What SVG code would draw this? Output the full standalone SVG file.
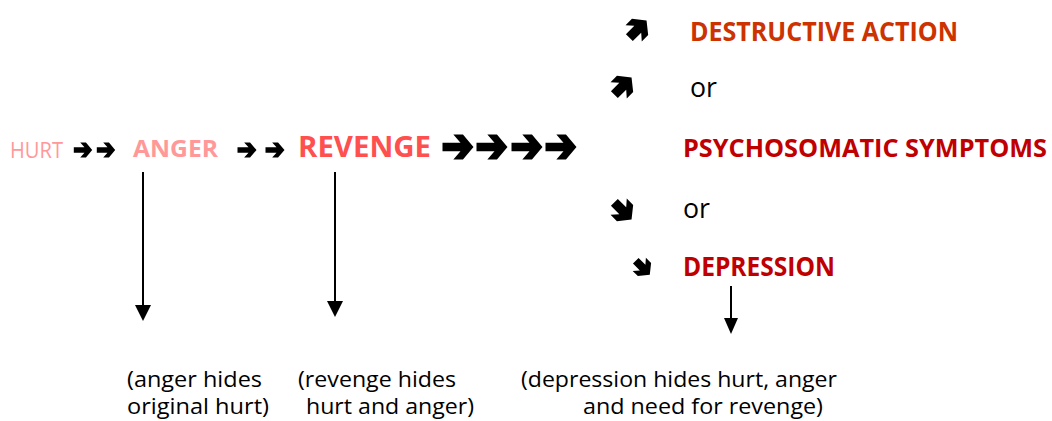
<svg xmlns="http://www.w3.org/2000/svg" xmlns:xlink="http://www.w3.org/1999/xlink" width="1052" height="421" viewBox="0 0 1052 421">
<style>
text{font-family:"Open Sans","Noto Sans","Liberation Sans",sans-serif}
.b{font-weight:bold}
.n{font-size:22px;fill:#000}
.pink{fill:#FF9999}
.rev{fill:#FF5050}
.orange{fill:#CC3300}
.red{fill:#C00000}
.ln{stroke:#000;stroke-width:2;fill:none}
.hd{fill:#000}
</style>
<defs>
<path id="ar" d="M-10,-2.8 H1.6 L-3,-8 H3.2 L10,0 L3.2,8 H-3 L1.6,2.8 H-10 Z" fill="#000"/>
<path id="dg" d="M-8,-3.6 H0.8 L-3.5,-8.5 H3.2 L10,0 L3.2,8.5 H-3.5 L0.8,3.6 H-8 Z" fill="#000"/>
</defs>
<rect width="1052" height="421" fill="#fff"/>

<g id="hurt">
<text x="10" y="158" font-size="21" class="pink" textLength="53" lengthAdjust="spacingAndGlyphs">HURT</text>
</g>
<g id="anger">
<text x="133" y="157" font-size="24" class="b pink" textLength="85" lengthAdjust="spacingAndGlyphs">ANGER</text>
</g>
<g id="revenge">
<text x="298" y="157" font-size="29" class="b rev" textLength="133" lengthAdjust="spacingAndGlyphs">REVENGE</text>
</g>
<g id="destructive">
<text x="690" y="41" font-size="26" class="b orange" textLength="268" lengthAdjust="spacingAndGlyphs">DESTRUCTIVE ACTION</text>
</g>
<g id="or1">
<text x="690" y="97" font-size="27" textLength="27" lengthAdjust="spacingAndGlyphs">or</text>
</g>
<g id="psychosomatic">
<text x="683" y="157" font-size="25" class="b red" textLength="364" lengthAdjust="spacingAndGlyphs">PSYCHOSOMATIC SYMPTOMS</text>
</g>
<g id="or2">
<text x="683" y="218" font-size="27" textLength="27" lengthAdjust="spacingAndGlyphs">or</text>
</g>
<g id="depression">
<text x="683" y="276" font-size="26" class="b red" textLength="152" lengthAdjust="spacingAndGlyphs">DEPRESSION</text>
</g>
<g id="note-anger">
<text x="127" y="387" class="n" textLength="135" lengthAdjust="spacingAndGlyphs">(anger hides</text>
<text x="127" y="414" class="n" textLength="142" lengthAdjust="spacingAndGlyphs">original hurt)</text>
</g>
<g id="note-revenge">
<text x="298" y="387" class="n" textLength="158" lengthAdjust="spacingAndGlyphs">(revenge hides</text>
<text x="306" y="414" class="n" textLength="168" lengthAdjust="spacingAndGlyphs">hurt and anger)</text>
</g>
<g id="note-depression">
<text x="521" y="387" class="n" textLength="316" lengthAdjust="spacingAndGlyphs">(depression hides hurt, anger</text>
<text x="583" y="414" class="n" textLength="240" lengthAdjust="spacingAndGlyphs">and need for revenge)</text>
</g>

<g id="connectors">
<use xlink:href="#ar" transform="translate(83,150) scale(0.92,0.95)"/>
<use xlink:href="#ar" transform="translate(106,150) scale(0.92,0.95)"/>
<use xlink:href="#ar" transform="translate(247,150) scale(0.95,0.95)"/>
<use xlink:href="#ar" transform="translate(275,150) scale(0.95,0.95)"/>
<use xlink:href="#ar" transform="translate(458,147) scale(1.55,1.55)"/>
<use xlink:href="#ar" transform="translate(492,147) scale(1.55,1.55)"/>
<use xlink:href="#ar" transform="translate(527,147) scale(1.55,1.55)"/>
<use xlink:href="#ar" transform="translate(561,147) scale(1.55,1.55)"/>
<use xlink:href="#dg" transform="translate(637,30) rotate(-45) scale(1.35)"/>
<use xlink:href="#dg" transform="translate(622,87) rotate(-45) scale(1.35)"/>
<use xlink:href="#dg" transform="translate(622,210) rotate(45) scale(1.35)"/>
<use xlink:href="#dg" transform="translate(642,267) rotate(45) scale(1.1)"/>
<line class="ln" x1="143" y1="172" x2="143" y2="306"/>
<polygon class="hd" points="135,305 151,305 143,321"/>
<line class="ln" x1="335" y1="172" x2="335" y2="302"/>
<polygon class="hd" points="327,301 343,301 335,317"/>
<line class="ln" x1="731" y1="286" x2="731" y2="320"/>
<polygon class="hd" points="724,318 738,318 731,334"/>
</g>
</svg>
